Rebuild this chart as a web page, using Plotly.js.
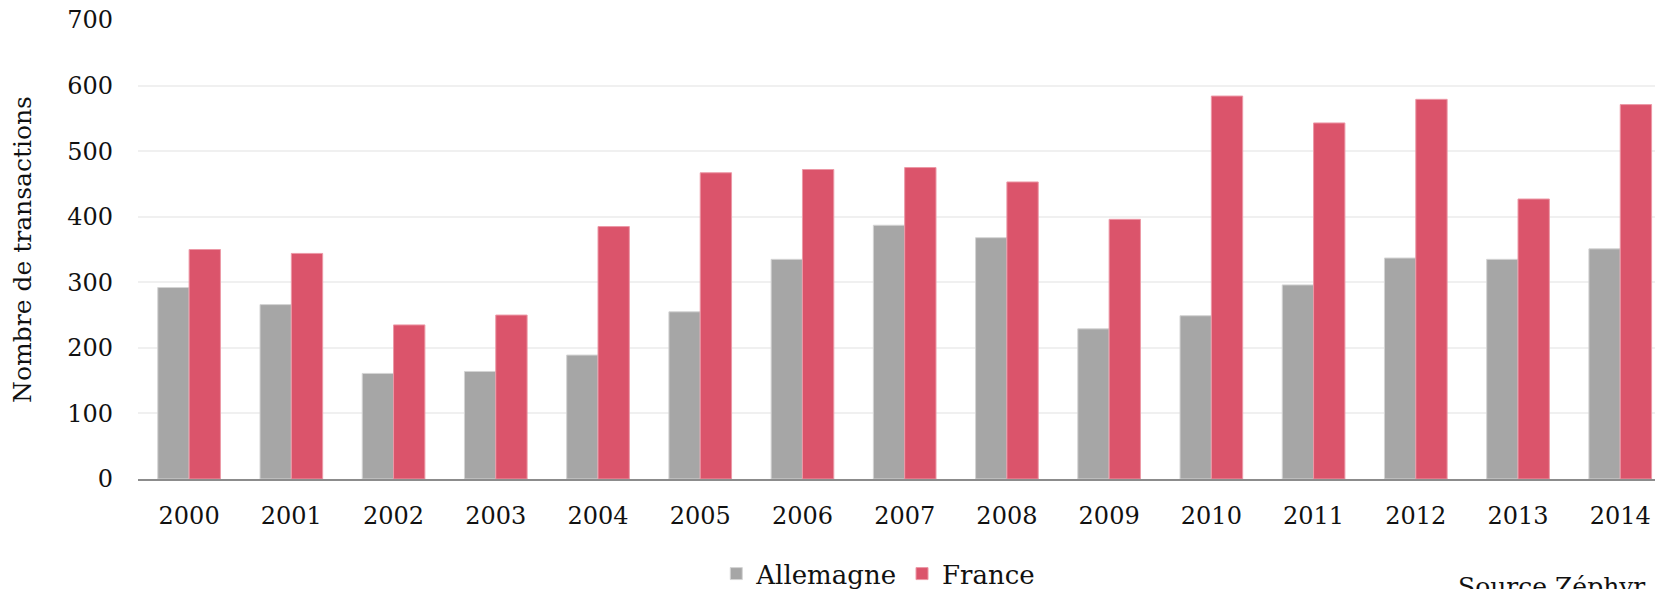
<!DOCTYPE html>
<html>
<head>
<meta charset="utf-8">
<script src="https://cdn.plot.ly/plotly-3.0.1.min.js"></script>
<style>html,body{margin:0;padding:0;background:#fff;}#chart{width:1655px;height:589px;}</style>
</head>
<body>
<div id="chart"></div>
<script>
const years = ["2000","2001","2002","2003","2004","2005","2006","2007","2008","2009","2010","2011","2012","2013","2014"];
const allemagne = [292, 266, 161, 164, 189, 255, 335, 387, 368, 229, 249, 296, 337, 335, 351];
const france = [350, 344, 235, 250, 385, 467, 472, 475, 453, 396, 584, 543, 579, 427, 571];
const yTicks = [0, 100, 200, 300, 400, 500, 600, 700];

const FONT = "DejaVu Serif, Georgia, serif";

const traces = [
  {type: "bar", name: "Allemagne", x: years, y: allemagne,
   marker: {color: "#a6a6a6", line: {color: "#d4d4d4", width: 1}}, hoverinfo: "x+y"},
  {type: "bar", name: "France", x: years, y: france,
   marker: {color: "#db546b", line: {color: "#ec98a6", width: 1}}, hoverinfo: "x+y"}
];

const layout = {
  width: 1655, height: 589,
  margin: {l: 138, r: 0, t: 20, b: 109.5},
  paper_bgcolor: "#fff", plot_bgcolor: "#fff",
  font: {family: FONT, color: "#111", size: 24},
  barmode: "group", bargap: 0.387, bargroupgap: 0,
  showlegend: true,
  legend: {orientation: "h", x: 0.488, xanchor: "center", xref: "paper",
           y: 0.026, yanchor: "middle", yref: "container",
           font: {size: 26, family: FONT, color: "#111"}, itemclick: false, traceorder: "normal",
           itemwidth: 30, tracegroupgap: 0},
  xaxis: {type: "category", range: [-0.5, 14.34], showgrid: false, zeroline: false,
          showline: true, linecolor: "#8c8c8c", linewidth: 2, ticks: "",
          tickfont: {size: 24, family: FONT, color: "#111"}, ticklabelstandoff: 14, fixedrange: true},
  yaxis: {range: [0, 700], tickvals: yTicks, ticktext: yTicks.map(String),
          showgrid: true, gridcolor: "#f0f0f0", gridwidth: 2, zeroline: false, showline: false,
          ticks: "", ticklabelstandoff: 24, tickfont: {size: 24, family: FONT, color: "#111"},
          title: {text: "Nombre de transactions", font: {size: 25, family: FONT, color: "#111"}, standoff: 28},
          fixedrange: true},
  annotations: [{text: "Source Zéphyr", xref: "paper", yref: "paper", x: 0.932, y: -0.198,
                 xanchor: "center", yanchor: "top", showarrow: false,
                 font: {size: 25, family: FONT, color: "#111"}}]
};

Plotly.newPlot("chart", traces, layout, {displayModeBar: false, staticPlot: true});
</script>
</body>
</html>
